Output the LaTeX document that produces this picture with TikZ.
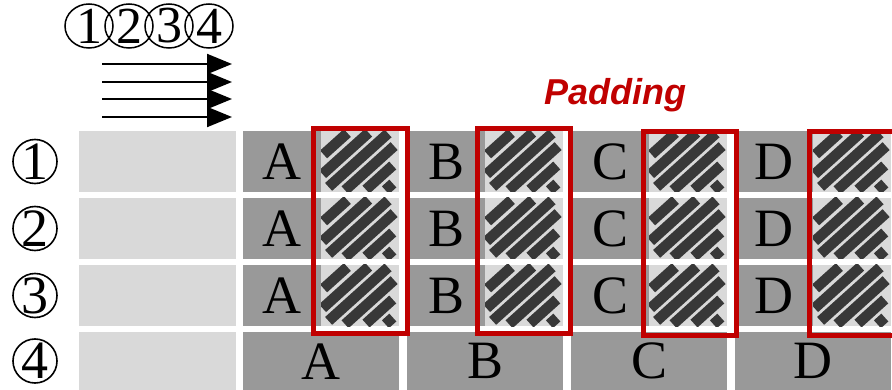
\documentclass[tikz,border=0pt]{standalone}
\usepackage{fontspec}
\setmainfont{Liberation Serif}
\newfontfamily\padfont{Liberation Sans}
\usetikzlibrary{arrows.meta,shapes.geometric}
\definecolor{padred}{HTML}{C00000}
\definecolor{lightcell}{HTML}{D9D9D9}
\definecolor{darkcell}{HTML}{999999}
\definecolor{barcol}{HTML}{383838}
\newcommand{\hatchcell}[2]{%
  \begin{scope}[shift={(#1,#2)}]
    \clip (0,0) rectangle (78,61);
    \foreach \o/\a/\b in {-30/-22/10,-16/-36/26,-2.5/-40/40,11/-30/36,24.5/-14/22,38/0/10}{%
      \draw[hatchbar] ({39+(\o)*0.669+(\a)*0.743},{31+(\o)*0.743-(\a)*0.669}) --
                      ({39+(\o)*0.669+(\b)*0.743},{31+(\o)*0.743-(\b)*0.669});
    }
  \end{scope}}
\begin{document}
\begin{tikzpicture}[x=1pt,y=-1pt,
  lcell/.style={fill=lightcell,inner sep=0pt,anchor=north west,minimum width=78pt,minimum height=61pt},
  dcell/.style={fill=darkcell,inner sep=0pt,anchor=north west,minimum width=78pt,minimum height=61pt,
                font=\fontsize{54}{54}\selectfont},
  widecell/.style={fill=darkcell,inner sep=0pt,anchor=north west,minimum width=156pt,minimum height=58pt,
                font=\fontsize{54}{54}\selectfont},
  leftcell/.style={fill=lightcell,inner sep=0pt,anchor=north west,minimum width=157pt,minimum height=61pt},
  hatchbar/.style={barcol,line width=10.5pt,line cap=butt},
  redbox/.style={draw=padred,line width=4.6pt,inner sep=0pt,anchor=north west},
  ring/.style={draw,circle,line width=1.6pt,minimum size=44pt,inner sep=0pt},
  oval/.style={draw,ellipse,line width=1.5pt,minimum width=48pt,minimum height=44pt,inner sep=0pt},
  bignum/.style={inner sep=0pt,font=\fontsize{54}{54}\selectfont},
  topnum/.style={inner sep=0pt,font=\fontsize{52}{52}\selectfont},
  flow/.style={line width=2pt,-{Triangle[length=25pt,width=20pt]}}
]
\clip (0,0) rectangle (892,390);

% top ordering labels
\foreach \d [count=\i from 0] in {1,2,3,4}{
  \node[oval] (o\d) at ({89+40*\i},26) {};
  \node[topnum] (ot\d) at (o\d.center) {\d};
}
% arrows
\foreach \yy [count=\i] in {64,82,99,117}{
  \coordinate (as\i) at (102,\yy);
  \coordinate (ae\i) at (232,\yy);
  \draw[flow] (as\i) -- (ae\i);
}

% left labels and light cells
\foreach \r in {1,2,3}{
  \pgfmathsetmacro\ry{131+67*(\r-1)}
  \node[leftcell] (lc\r) at (79,\ry) {};
  \node[ring] (rc\r) at (35,{\ry+30.5}) {};
  \node[bignum] (rn\r) at (rc\r.center) {\r};
}
\node[leftcell,minimum height=58pt] (lc4) at (79,332) {};
\node[ring] (rc4) at (35,361) {};
\node[bignum] (rn4) at (rc4.center) {4};

% grid rows 1-3
\foreach \L [count=\gi from 0] in {A,B,C,D}{
  \pgfmathsetmacro\gx{243+164*\gi}
  \pgfmathsetmacro\hx{321+164*\gi}
  \foreach \r in {1,2,3}{
    \pgfmathsetmacro\ry{131+67*(\r-1)}
    \node[dcell] (d\L\r) at (\gx,\ry) {\L};
    \node[lcell] (h\L\r) at (\hx,\ry) {};
    \hatchcell{\hx}{\ry}
  }
  \node[widecell] (w\L) at (\gx,332) {\L};
}

% padding boxes
\node[redbox,minimum width=94pt,minimum height=205pt] (pA) at (311,126) {};
\node[redbox,minimum width=93pt,minimum height=205pt] (pB) at (475,126) {};
\node[redbox,minimum width=93pt,minimum height=204pt] (pC) at (641,129) {};
\node[redbox,minimum width=93pt,minimum height=204pt] (pD) at (807,129) {};

\node[anchor=base,inner sep=0pt,text=padred,font=\padfont\bfseries\itshape\fontsize{36}{36}\selectfont]
  (pad) at (615,105) {Padding};
\end{tikzpicture}
\end{document}
